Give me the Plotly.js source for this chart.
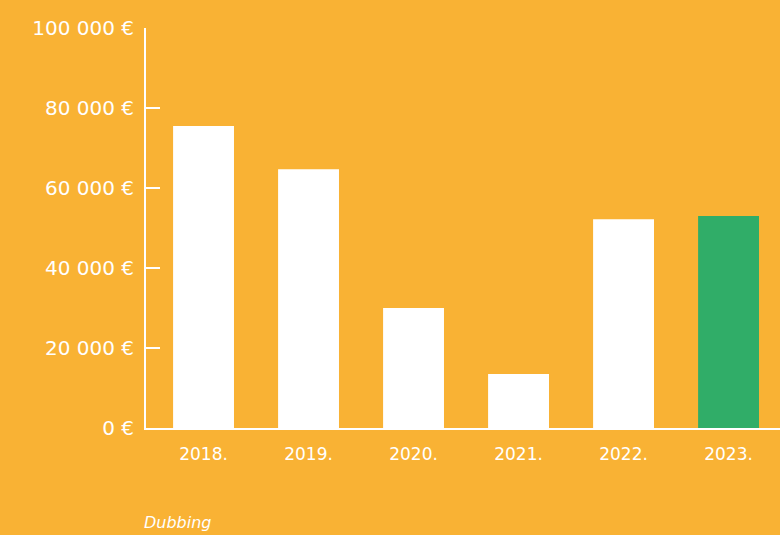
<!DOCTYPE html>
<html>
<head>
<meta charset="utf-8">
<script src="https://cdn.plot.ly/plotly-3.0.1.min.js"></script>
<style>html,body{margin:0;padding:0;background:#F9B234;}#chart{width:780px;height:535px;}</style>
</head>
<body>
<div id="chart"></div>
<script>
var years = ["2018.", "2019.", "2020.", "2021.", "2022.", "2023."];
var values = [75500, 64700, 30000, 13500, 52200, 53000];
var barColors = ["#FFFFFF", "#FFFFFF", "#FFFFFF", "#FFFFFF", "#FFFFFF", "#30AD68"];
var yTicks = [0, 20000, 40000, 60000, 80000, 100000];
var yTickText = ["0 €", "20 000 €", "40 000 €", "60 000 €", "80 000 €", "100 000 €"];
var caption = "Dubbing";

var font = "'DejaVu Sans', sans-serif";
Plotly.newPlot("chart", [{
  type: "bar",
  x: years,
  y: values,
  marker: {color: barColors, line: {width: 0}},
  hoverinfo: "none"
}], {
  width: 780, height: 535,
  paper_bgcolor: "#F9B234", plot_bgcolor: "#F9B234",
  margin: {l: 146, r: 0, t: 28, b: 107},
  bargap: 0.42,
  showlegend: false,
  xaxis: {
    type: "category",
    range: [-0.548, 5.49],
    showgrid: false, zeroline: false,
    showline: true, linecolor: "#FFFFFF", linewidth: 2,
    ticks: "", ticklabelstandoff: 10,
    tickfont: {family: font, size: 17, color: "#FFFFFF"}
  },
  yaxis: {
    range: [0, 100000],
    tickvals: yTicks, ticktext: yTickText,
    showgrid: false, zeroline: false,
    showline: true, linecolor: "#FFFFFF", linewidth: 2,
    ticks: "inside", ticklen: 14, tickwidth: 2, tickcolor: "#FFFFFF",
    ticklabelstandoff: 6,
    tickfont: {family: font, size: 20, color: "#FFFFFF"}
  },
  annotations: [{
    text: caption, xref: "paper", yref: "paper",
    x: -0.006, y: -0.235, xanchor: "left", yanchor: "middle",
    showarrow: false,
    font: {family: font, size: 16, color: "#FFFFFF", style: "italic"}
  }]
}, {displayModeBar: false, staticPlot: true});
</script>
</body>
</html>
